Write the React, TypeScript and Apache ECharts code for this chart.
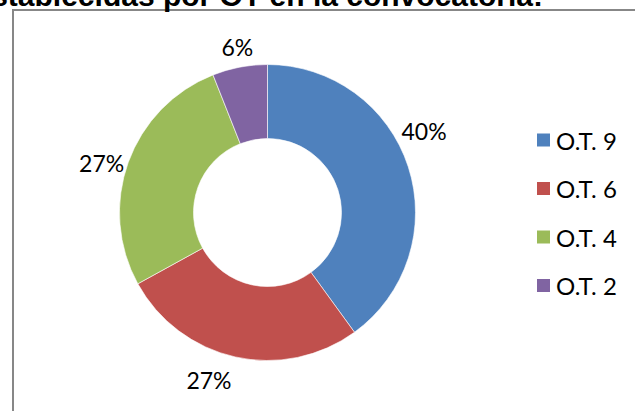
import React, { useEffect, useRef } from "react";
import * as echarts from "echarts";

const categories = ["O.T. 9", "O.T. 6", "O.T. 4", "O.T. 2"];
const percentValues = [40, 27, 27, 6];
const colors = ["#4F81BD", "#C0504D", "#9BBB59", "#8064A2"];
const titleText = "establecidas por OT en la convocatoria:";

const CENTER: [number, number] = [267.5, 212.5];
const R_OUT = 148;
const R_IN = 74;
const LABEL_DIST = 172;
// small per-label nudges to mimic the original's outside-end label placement
const LABEL_NUDGE: [number, number][] = [
  [-7, -28],
  [-21, 0],
  [-4, 9],
  [2, 3],
];

export default function App() {
  const ref = useRef<HTMLDivElement>(null);
  useEffect(() => {
    if (!ref.current) return;
    const chart = echarts.init(ref.current, undefined, { renderer: "svg" });
    const total = percentValues.reduce((a, b) => a + b, 0);
    const midAngles: number[] = [];
    let acc = 0;
    percentValues.forEach((v) => {
      const start = 90 - (acc / total) * 360;
      const end = 90 - ((acc + v) / total) * 360;
      midAngles.push(((start + end) / 2) * (Math.PI / 180));
      acc += v;
    });
    chart.setOption({
      animation: false,
      backgroundColor: "#ffffff",
      graphic: [
        {
          type: "rect",
          shape: { x: 13, y: 10, width: 700, height: 500 },
          style: { fill: "none", stroke: "#878787", lineWidth: 2 },
          silent: true,
        },
        {
          type: "text",
          x: 543,
          y: -4.5,
          style: {
            text: titleText,
            fontFamily: "Liberation Sans, Arial, sans-serif",
            fontWeight: "bold",
            fontSize: 30,
            fill: "#000000",
            align: "right",
            verticalAlign: "middle",
          },
          silent: true,
        },
      ],
      legend: {
        orient: "vertical",
        left: 530,
        top: 123,
        icon: "rect",
        itemWidth: 15,
        itemHeight: 15,
        itemGap: 24.5,
        data: categories,
        textStyle: {
          fontFamily: "Lato, sans-serif",
          fontSize: 24,
          lineHeight: 24,
          color: "#000000",
        },
      },
      series: [
        {
          type: "pie",
          center: CENTER,
          radius: [R_IN, R_OUT],
          startAngle: 90,
          clockwise: true,
          color: colors,
          itemStyle: { borderColor: "#ffffff", borderWidth: 0.6 },
          label: {
            show: true,
            position: "outside",
            formatter: (p: any) => `${p.value}%`,
            fontFamily: "Lato, sans-serif",
            fontSize: 23,
            color: "#000000",
          },
          labelLine: { show: false },
          labelLayout: (params: any) => {
            const i = params.dataIndex;
            const a = midAngles[i];
            return {
              x: CENTER[0] + LABEL_DIST * Math.cos(a) + LABEL_NUDGE[i][0],
              y: CENTER[1] - LABEL_DIST * Math.sin(a) + LABEL_NUDGE[i][1],
              align: "center",
              verticalAlign: "middle",
            };
          },
          data: categories.map((name, i) => ({ name, value: percentValues[i] })),
        },
      ],
    });
    return () => chart.dispose();
  }, []);
  return (
    <div
      ref={ref}
      style={{ position: "absolute", left: 0, top: 0, width: 635, height: 411 }}
    />
  );
}
